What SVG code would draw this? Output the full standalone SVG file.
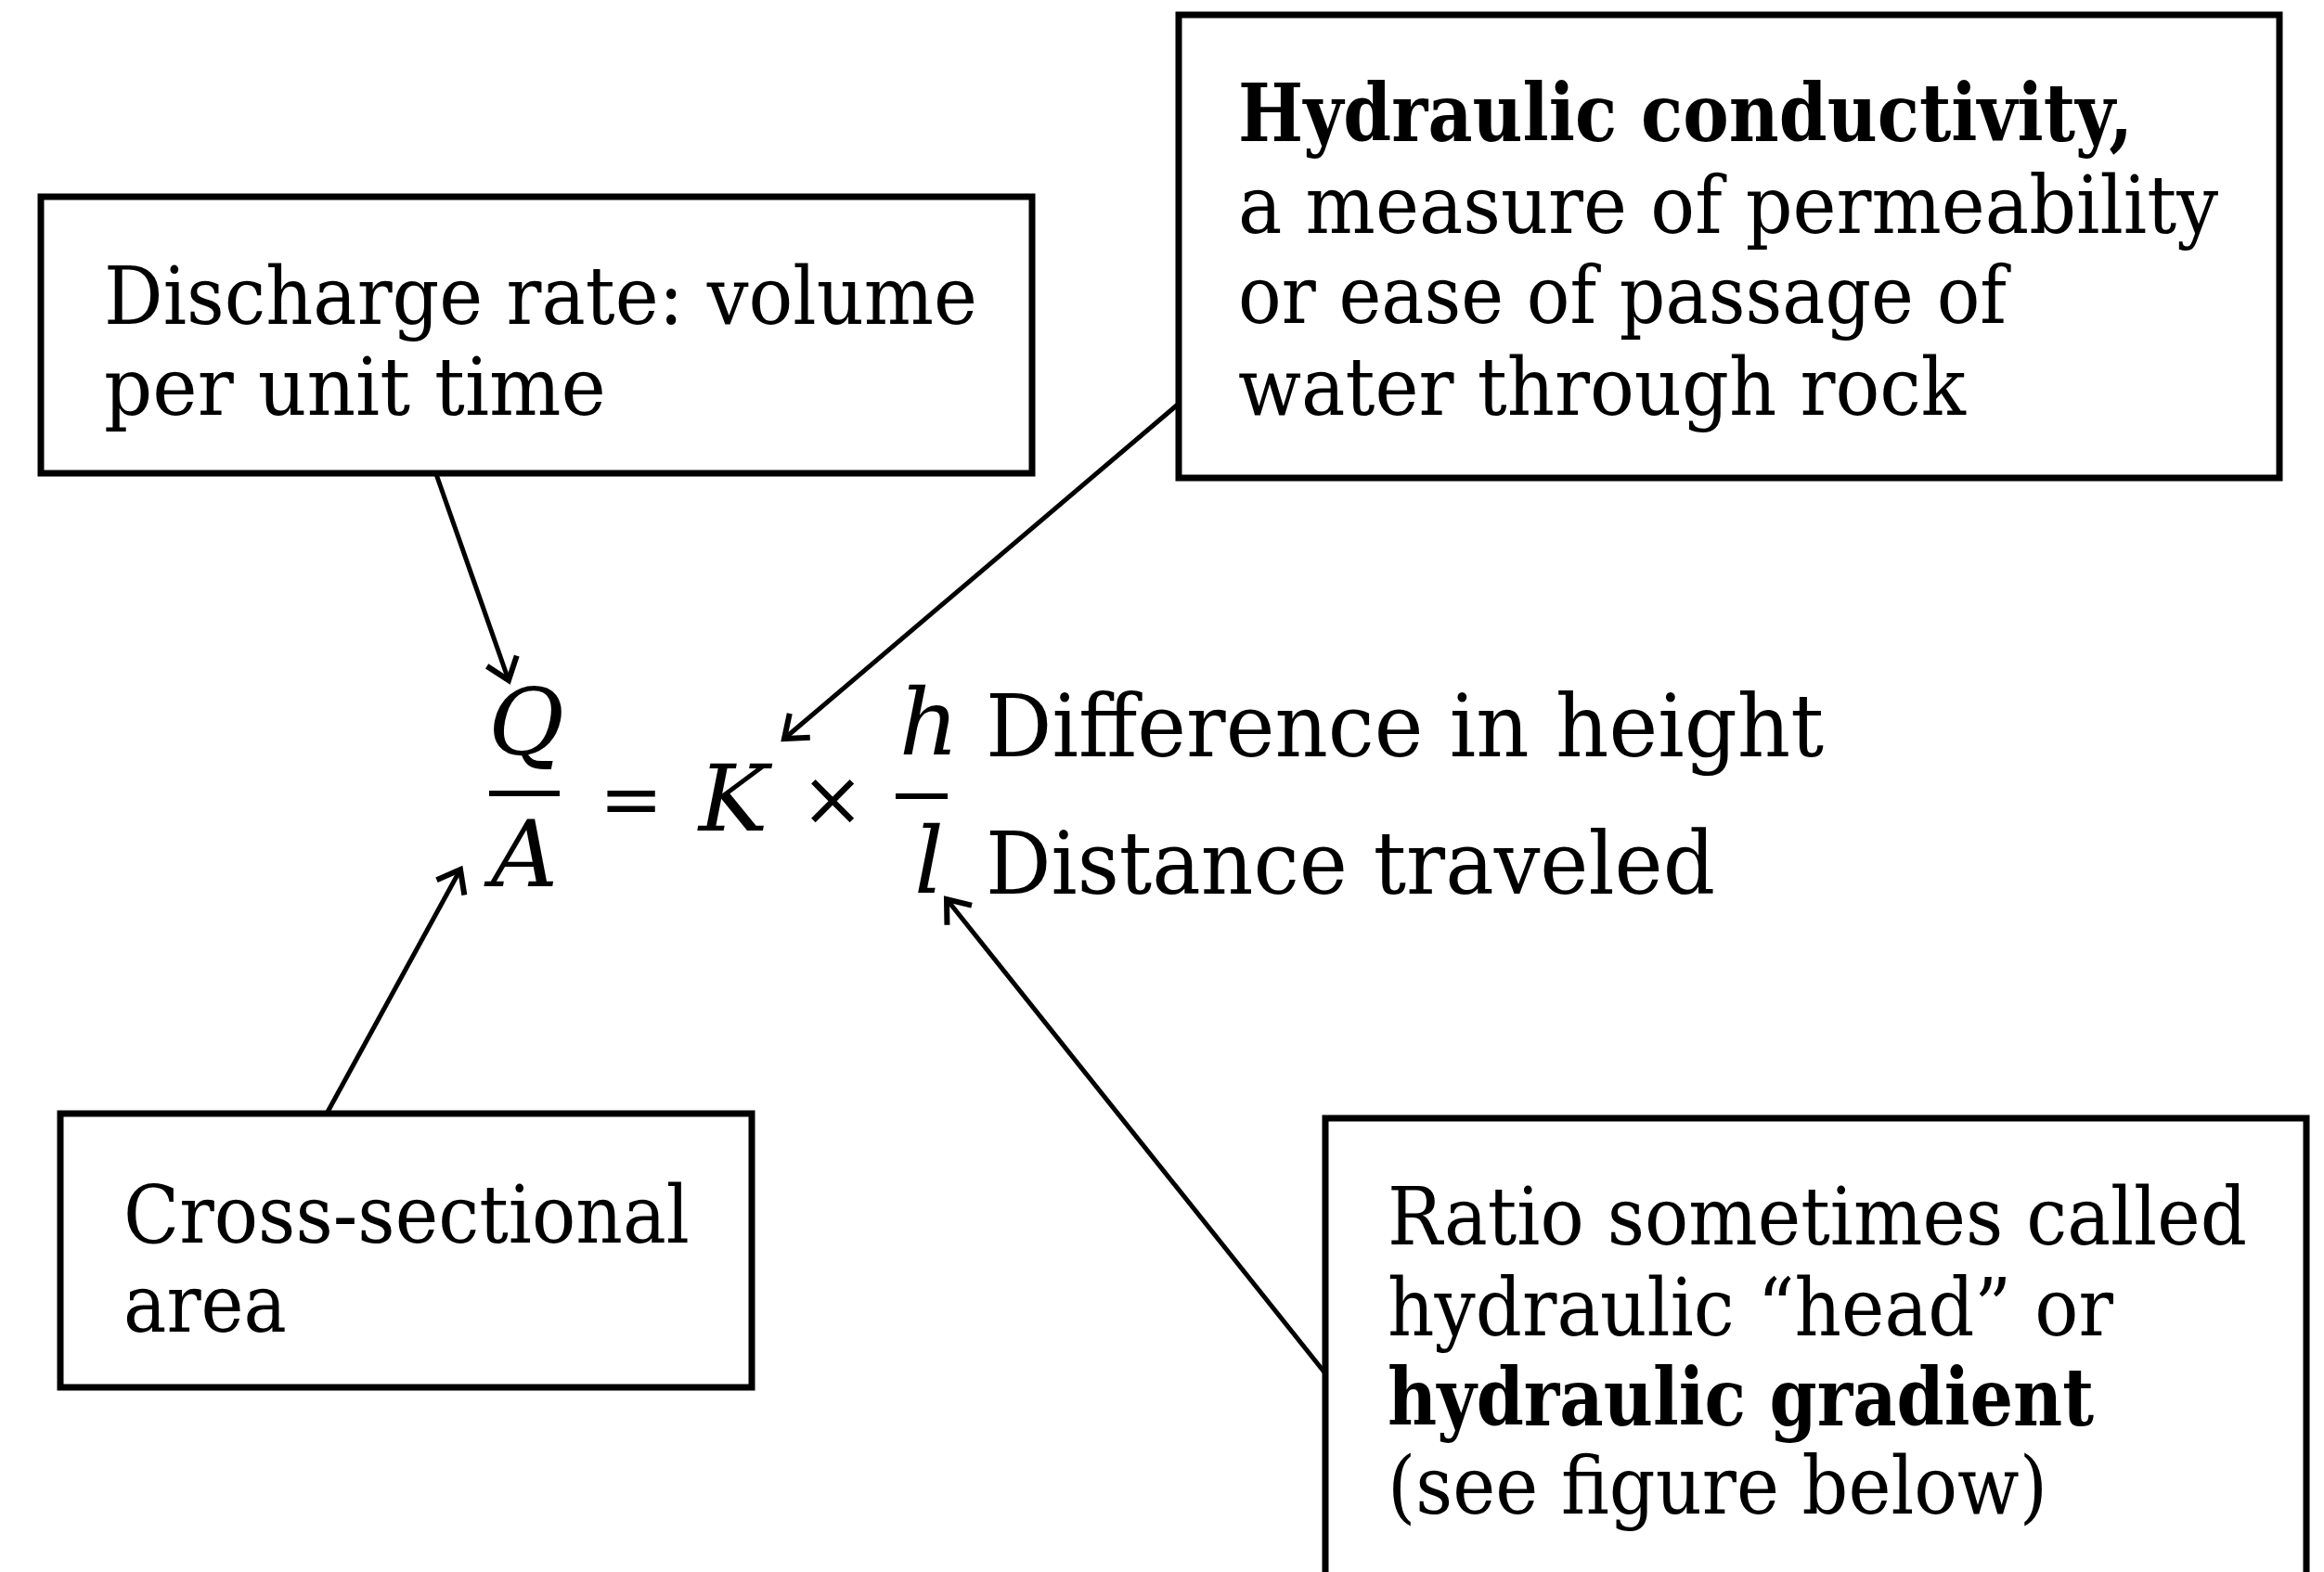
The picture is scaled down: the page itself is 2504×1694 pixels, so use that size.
<svg xmlns="http://www.w3.org/2000/svg" width="2504" height="1694" viewBox="0 0 2504 1694">
<style>
.box{fill:#fff;stroke:#000;stroke-width:7}
.t{font-family:"DejaVu Serif","Liberation Serif",serif;font-size:86px;fill:#000}
.b{font-weight:bold}
.eq{font-family:"DejaVu Serif","Liberation Serif",serif;font-size:94px;fill:#000}
.m{font-family:"DejaVu Serif","Liberation Serif",serif;font-style:italic;font-size:100px;fill:#000;text-anchor:middle}
.op{font-family:"DejaVu Serif","Liberation Serif",serif;font-size:82px;fill:#000;text-anchor:middle}
.c{stroke:#000;stroke-width:5;fill:none}
.bar{stroke:#000;stroke-width:6}
</style>
<defs>
<marker id="ah" markerUnits="userSpaceOnUse" markerWidth="34" markerHeight="40" refX="28" refY="20" orient="auto" viewBox="0 0 34 40">
<path d="M6,3 L28,20 L6,37" fill="none" stroke="#000" stroke-width="6"/>
</marker>
</defs>
<rect width="2504" height="1694" fill="#fff"/>

<g id="discharge">
<rect class="box" x="44" y="212" width="1068" height="298"/>
<text class="t" x="112" y="349" textLength="941" lengthAdjust="spacingAndGlyphs">Discharge rate: volume</text>
<text class="t" x="112" y="447" textLength="541" lengthAdjust="spacingAndGlyphs">per unit time</text>
</g>

<g id="conductivity">
<rect class="box" x="1270" y="16" width="1186" height="499"/>
<text class="t b" x="1334" y="152" textLength="964" lengthAdjust="spacingAndGlyphs">Hydraulic conductivity,</text>
<text class="t" x="1334" y="251" textLength="1056" lengthAdjust="spacingAndGlyphs">a measure of permeability</text>
<text class="t" x="1334" y="348" textLength="828" lengthAdjust="spacingAndGlyphs">or ease of passage of</text>
<text class="t" x="1334" y="447" textLength="784" lengthAdjust="spacingAndGlyphs">water through rock</text>
</g>

<g id="area">
<rect class="box" x="65" y="1200" width="745" height="295"/>
<text class="t" x="133" y="1339" textLength="610" lengthAdjust="spacingAndGlyphs">Cross-sectional</text>
<text class="t" x="133" y="1435" textLength="176" lengthAdjust="spacingAndGlyphs">area</text>
</g>

<g id="ratio">
<rect class="box" x="1428" y="1205" width="1057" height="520"/>
<text class="t" x="1495" y="1341" textLength="926" lengthAdjust="spacingAndGlyphs">Ratio sometimes called</text>
<text class="t" x="1495" y="1439" textLength="782" lengthAdjust="spacingAndGlyphs">hydraulic “head” or</text>
<text class="t b" x="1495" y="1536" textLength="761" lengthAdjust="spacingAndGlyphs">hydraulic gradient</text>
<text class="t" x="1495" y="1631" textLength="711" lengthAdjust="spacingAndGlyphs">(see figure below)</text>
</g>

<g id="equation">
<text class="m" x="567" y="813" font-size="104">Q</text>
<line class="bar" x1="527" y1="855" x2="603" y2="855"/>
<text class="m" x="565" y="955" font-size="94">A</text>
<text class="op" x="680" y="889">=</text>
<text class="m" x="790" y="895">K</text>
<text class="op" x="897" y="889">×</text>
<line class="bar" x1="965" y1="858" x2="1021" y2="858"/>
<text class="m" x="1001" y="813">h</text>
<text class="m" x="1001" y="962">l</text>
<text class="eq" x="1062" y="815" textLength="903" lengthAdjust="spacingAndGlyphs">Difference in height</text>
<text class="eq" x="1062" y="963" textLength="786" lengthAdjust="spacingAndGlyphs">Distance traveled</text>
</g>

<g id="connectors">
<line class="c" x1="470" y1="511" x2="548" y2="733" marker-end="url(#ah)"/>
<line class="c" x1="1270" y1="435" x2="845" y2="796" marker-end="url(#ah)"/>
<line class="c" x1="352" y1="1200" x2="496" y2="937" marker-end="url(#ah)"/>
<line class="c" x1="1428" y1="1480" x2="1020" y2="969" marker-end="url(#ah)"/>
</g>
</svg>
